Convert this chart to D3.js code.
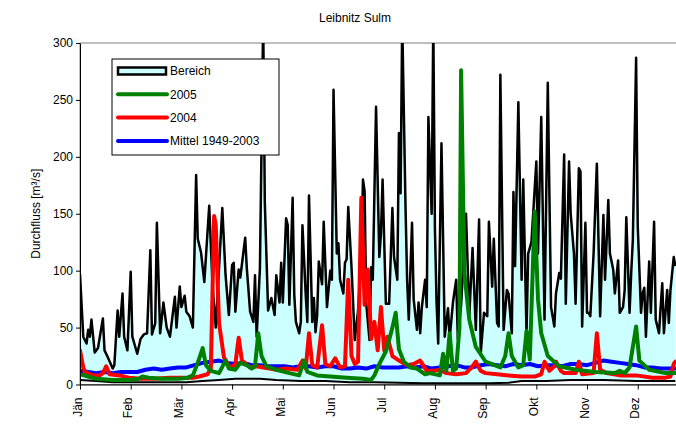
<!DOCTYPE html>
<html>
<head>
<meta charset="utf-8">
<script src="https://cdn.jsdelivr.net/npm/d3@7"></script>
<style>
  body { margin: 0; background: #fff; }
  text { font-family: Arial, "Liberation Sans", sans-serif; fill: #000; }
</style>
</head>
<body>
<div id="chart"></div>
<script>
// month labels, one tick every 31 days (category axis)
var months = ['Jän','Feb','Mär','Apr','Mai','Jun','Jul','Aug','Sep','Okt','Nov','Dez'];
var yTicks = [0, 50, 100, 150, 200, 250, 300];

// [day of year, m³/s]
var maxQ = [[0,97],[2,42],[4,36],[5,48],[6,42],[7,57],[9,28],[11,32],[14,58],[15,30],[17,24],[20,14],[21,17],[23,65],[24,42],[26,80],[27,42],[29,30],[31,99],[32,42],[35,27],[37,40],[39,44],[41,45],[43,118],[44,44],[46,54],[47,142],[49,45],[51,72],[53,50],[55,42],[58,77],[59,50],[61,86],[62,68],[64,78],[65,64],[67,60],[69,50],[71,184],[72,128],[74,116],[76,90],[79,157],[81,88],[83,50],[87,155],[89,96],[91,61],[93,105],[94,107],[95,64],[97,101],[98,94],[101,129],[102,102],[104,64],[106,55],[107,96],[108,42],[110,102],[112,320],[113,160],[115,65],[117,76],[119,61],[120,96],[122,72],[123,107],[124,72],[126,146],[127,140],[128,70],[130,164],[131,79],[132,55],[134,45],[135,55],[136,140],[138,79],[139,55],[140,166],[142,55],[143,76],[144,46],[145,61],[146,108],[148,88],[149,143],[151,68],[153,100],[154,92],[155,259],[157,115],[158,124],[159,92],[161,80],[162,107],[163,110],[164,156],[166,103],[167,71],[168,39],[170,65],[171,88],[172,115],[173,180],[174,170],[175,71],[177,39],[178,103],[179,92],[181,244],[183,112],[184,133],[185,180],[187,71],[189,71],[191,155],[192,112],[194,92],[195,221],[196,168],[197,320],[199,158],[200,92],[201,57],[203,142],[204,75],[206,48],[207,72],[208,45],[209,68],[211,92],[212,68],[213,235],[215,150],[216,320],[217,137],[218,72],[219,36],[221,212],[223,42],[225,67],[226,40],[228,72],[230,92],[231,40],[233,70],[236,150],[238,60],[240,120],[242,48],[244,145],[245,27],[247,63],[249,60],[250,143],[252,86],[253,128],[255,54],[256,51],[257,272],[259,48],[261,83],[262,80],[264,45],[265,169],[266,104],[268,248],[270,92],[271,180],[273,45],[274,115],[276,125],[279,196],[280,115],[282,235],[284,57],[286,265],[288,68],[290,51],[291,80],[293,98],[294,93],[296,202],[297,71],[299,196],[300,150],[302,115],[303,71],[305,190],[306,187],[307,51],[309,142],[310,63],[311,63],[312,60],[314,115],[316,194],[318,60],[320,149],[321,92],[323,162],[324,115],[326,101],[327,80],[329,109],[330,63],[332,68],[333,83],[334,147],[336,63],[337,98],[338,127],[340,287],[341,139],[343,63],[344,80],[345,85],[346,42],[348,108],[349,63],[351,143],[352,57],[354,45],[355,68],[356,89],[357,45],[359,83],[360,54],[361,83],[363,112],[364,104]];

var minQ = [[0,4],[10,3],[20,2],[35,2],[50,2],[65,2],[75,3],[85,4],[95,5],[110,5],[120,4],[135,3],[150,3],[165,2],[180,2],[195,1.5],[210,1],[230,1],[250,1],[262,1.5],[270,3],[285,3],[300,4],[320,4],[340,3],[364,3]];

var meanQ = [[0,12],[5,11],[10,10],[15,11],[20,10],[25,11],[30,11],[35,11],[40,13],[45,14],[50,13],[55,14],[60,15],[65,15],[70,17],[75,19],[80,20],[85,21],[90,19],[95,18],[100,19],[105,17],[110,17],[115,16],[120,16],[125,16],[130,15],[135,16],[140,16],[145,15],[150,16],[155,16],[160,14],[165,14],[170,15],[175,14],[180,16],[185,15],[190,15],[195,15],[200,16],[205,15],[210,16],[215,14],[220,15],[225,16],[230,17],[235,15],[240,15],[245,17],[250,18],[255,17],[260,16],[265,18],[270,17],[275,18],[280,16],[285,17],[290,17],[295,16],[300,18],[305,18],[310,17],[315,19],[320,21],[325,20],[330,19],[335,18],[340,17],[345,15],[350,15],[355,14],[360,14],[364,14]];

var q2004 = [[0,30],[2,15],[3,11],[8,8],[12,8],[14,10],[16,16],[18,9],[24,8],[30,6],[37,5],[45,5],[55,6],[61,6],[69,6],[73,7],[78,9],[80,14],[82,148],[83,140],[85,54],[88,24],[92,14],[95,18],[97,41],[99,21],[104,15],[108,16],[112,15],[116,14],[120,13],[126,14],[133,13],[136,21],[138,14],[140,45],[142,17],[145,15],[148,52],[150,18],[153,16],[156,23],[159,15],[162,16],[164,92],[166,25],[168,18],[170,20],[172,164],[174,70],[176,101],[178,40],[180,55],[182,30],[184,68],[186,30],[188,42],[191,25],[194,22],[200,17],[204,18],[208,21],[212,12],[216,12],[220,13],[224,10],[230,9],[236,10],[240,16],[242,20],[245,12],[248,10],[255,9],[262,8],[270,7],[278,7],[282,9],[284,20],[287,12],[290,16],[291,20],[294,12],[296,10],[303,10],[305,20],[307,9],[314,10],[316,45],[318,13],[322,10],[330,8],[340,8],[350,6],[358,6],[361,7],[363,18],[364,20]];

var q2005 = [[0,9],[5,7],[10,5],[20,4],[30,4],[36,5],[38,7],[42,6],[50,5],[60,5],[66,6],[69,8],[72,19],[75,32],[77,17],[80,12],[85,10],[89,21],[91,14],[95,13],[98,19],[102,17],[105,14],[107,16],[109,45],[111,25],[114,16],[120,13],[128,10],[134,8],[137,21],[139,11],[145,8],[153,7],[163,6],[173,5],[178,4],[180,8],[183,18],[187,29],[189,39],[191,50],[193,63],[195,31],[198,20],[202,15],[206,14],[211,9],[214,10],[220,8],[222,27],[224,12],[226,45],[228,12],[230,14],[232,50],[233,276],[235,98],[238,57],[242,33],[248,20],[257,15],[260,25],[262,45],[264,25],[268,15],[271,17],[273,47],[275,22],[278,152],[280,75],[282,45],[286,25],[293,16],[303,13],[315,11],[327,10],[330,12],[333,10],[336,15],[340,51],[342,21],[348,13],[358,10],[364,10]];

var svgWidth = 676;
var svgHeight = 424;
var plot = { left: 80, right: 677, top: 43, bottom: 384.5 };

var svg = d3.select('#chart')
    .append('svg')
    .attr('width', svgWidth)
    .attr('height', svgHeight);

var xScale = d3.scaleLinear().domain([0, 365]).range([plot.left, plot.right]);
var yScale = d3.scaleLinear().domain([0, 300]).range([plot.bottom, plot.top]);

svg.append('clipPath').attr('id', 'clip')
    .append('rect')
    .attr('x', plot.left).attr('y', plot.top)
    .attr('width', plot.right - plot.left).attr('height', plot.bottom - plot.top);

// plot frame
svg.append('rect')
    .attr('x', plot.left).attr('y', plot.top)
    .attr('width', plot.right - plot.left).attr('height', plot.bottom - plot.top)
    .attr('fill', 'none').attr('stroke', '#808080').attr('stroke-width', 1);

var line = d3.line().x(d => xScale(d[0])).y(d => yScale(d[1]));
var chartGroup = svg.append('g').attr('clip-path', 'url(#clip)');

// range band between min and max
var band = maxQ.concat(minQ.slice().reverse());
chartGroup.append('path')
    .attr('d', line(band) + 'Z')
    .attr('fill', '#ccffff')
    .attr('stroke', 'none');

chartGroup.append('path').attr('d', line(minQ))
    .attr('fill', 'none').attr('stroke', '#000').attr('stroke-width', 2);
chartGroup.append('path').attr('d', line(maxQ))
    .attr('fill', 'none').attr('stroke', '#000').attr('stroke-width', 2.5)
    .attr('stroke-linejoin', 'round');

var series = [
    { data: meanQ, color: '#0000ff' },
    { data: q2004, color: '#ff0000' },
    { data: q2005, color: '#008000' }
];
series.forEach(function(s) {
    chartGroup.append('path').attr('d', line(s.data))
        .attr('fill', 'none').attr('stroke', s.color).attr('stroke-width', 4)
        .attr('stroke-linejoin', 'round').attr('stroke-linecap', 'round');
});

// axes
var leftAxis = d3.axisLeft(yScale).tickValues(yTicks).tickSize(4).tickSizeOuter(0).tickPadding(3);
svg.append('g').attr('transform', `translate(${plot.left},0)`).call(leftAxis)
    .call(g => g.selectAll('text').attr('font-size', '12px').attr('font-family', 'Arial, "Liberation Sans", sans-serif'));

var bottomAxis = d3.axisBottom(xScale)
    .tickValues(months.map((m, i) => i * 31))
    .tickFormat((d, i) => months[i])
    .tickSize(5).tickSizeOuter(0);
var xg = svg.append('g').attr('transform', `translate(0,${plot.bottom})`).call(bottomAxis);
xg.selectAll('text')
    .attr('font-size', '12px')
    .attr('font-family', 'Arial, "Liberation Sans", sans-serif')
    .attr('text-anchor', 'end')
    .attr('transform', 'translate(-3,0) rotate(-90)')
    .attr('x', -13).attr('y', 0).attr('dy', '0.35em');
svg.selectAll('.domain').attr('stroke', '#000');

svg.append('text')
    .attr('x', 355).attr('y', 22)
    .attr('text-anchor', 'middle')
    .attr('font-size', '12px')
    .text('Leibnitz Sulm');

svg.append('text')
    .attr('transform', `translate(40,${(plot.top + plot.bottom) / 2}) rotate(-90)`)
    .attr('text-anchor', 'middle')
    .attr('font-size', '12px')
    .text('Durchfluss [m³/s]');

// legend
var legend = svg.append('g');
legend.append('rect')
    .attr('x', 112).attr('y', 59).attr('width', 167).attr('height', 96)
    .attr('fill', '#fff').attr('stroke', '#000').attr('stroke-width', 1);

var legendItems = [
    { label: 'Bereich', color: null },
    { label: '2005', color: '#008000' },
    { label: '2004', color: '#ff0000' },
    { label: 'Mittel 1949-2003', color: '#0000ff' }
];
legendItems.forEach(function(item, i) {
    var y = 71 + i * 23.3;
    if (item.color === null) {
        legend.append('rect')
            .attr('x', 118).attr('y', y - 3.5).attr('width', 48).attr('height', 7)
            .attr('fill', '#ccffff').attr('stroke', '#000').attr('stroke-width', 2.5);
    } else {
        legend.append('line')
            .attr('x1', 118).attr('x2', 167).attr('y1', y).attr('y2', y)
            .attr('stroke', item.color).attr('stroke-width', 4).attr('stroke-linecap', 'round');
    }
    legend.append('text')
        .attr('x', 170).attr('y', y).attr('dy', '0.35em')
        .attr('font-size', '12px')
        .text(item.label);
});
</script>
</body>
</html>
